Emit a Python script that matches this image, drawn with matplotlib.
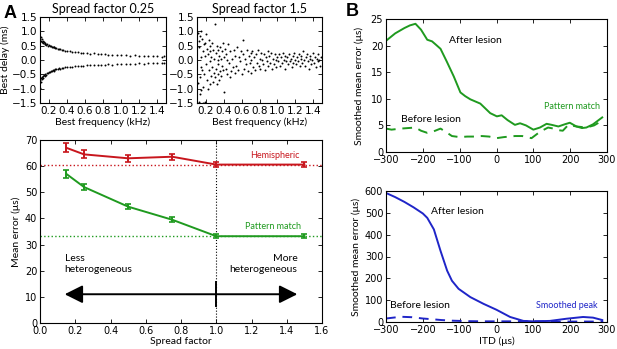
import matplotlib
matplotlib.use("Agg")
import matplotlib.pyplot as plt
import numpy as np

# ---- data ----
# panel A, top left: spread factor 0.25 (two branches)
sf025_up_f = [0.10, 0.11, 0.11, 0.12, 0.12, 0.13, 0.13, 0.14, 0.15, 0.15, 0.16, 0.17, 0.18, 0.19, 0.20,
              0.21, 0.22, 0.23, 0.24, 0.25, 0.26, 0.27, 0.28, 0.30, 0.31, 0.32, 0.34, 0.36, 0.38, 0.40,
              0.43, 0.46, 0.49, 0.52, 0.55, 0.58, 0.62, 0.66, 0.70, 0.74, 0.78, 0.82, 0.86, 0.90, 0.95,
              1.00, 1.05, 1.10, 1.15, 1.20, 1.25, 1.30, 1.35, 1.40, 1.45, 1.48]
sf025_up_d = [0.72, 0.68, 0.80, 0.62, 0.75, 0.65, 0.58, 0.63, 0.55, 0.60, 0.56, 0.52, 0.55, 0.50, 0.52,
              0.48, 0.50, 0.46, 0.47, 0.44, 0.45, 0.41, 0.42, 0.40, 0.37, 0.38, 0.35, 0.34, 0.33, 0.32,
              0.30, 0.29, 0.28, 0.27, 0.26, 0.25, 0.24, 0.22, 0.23, 0.21, 0.20, 0.21, 0.19, 0.18, 0.17,
              0.16, 0.17, 0.15, 0.16, 0.14, 0.15, 0.13, 0.14, 0.13, 0.12, 0.13]
sf025_lo_f = [0.10, 0.10, 0.11, 0.11, 0.12, 0.12, 0.13, 0.13, 0.14, 0.15, 0.16, 0.17, 0.18, 0.19, 0.20,
              0.21, 0.22, 0.23, 0.24, 0.25, 0.26, 0.27, 0.28, 0.30, 0.31, 0.32, 0.34, 0.36, 0.38, 0.40,
              0.43, 0.46, 0.49, 0.52, 0.55, 0.58, 0.62, 0.66, 0.70, 0.74, 0.78, 0.82, 0.86, 0.90, 0.95,
              1.00, 1.05, 1.10, 1.15, 1.20, 1.25, 1.30, 1.35, 1.40, 1.45, 1.48]
sf025_lo_d = [-0.98, -0.70, -0.62, -0.75, -0.58, -0.66, -0.55, -0.62, -0.52, -0.56, -0.50, -0.53, -0.47, -0.45, -0.43,
              -0.42, -0.40, -0.38, -0.36, -0.35, -0.37, -0.33, -0.32, -0.30, -0.29, -0.30, -0.28, -0.27, -0.25, -0.26,
              -0.24, -0.23, -0.22, -0.21, -0.22, -0.20, -0.19, -0.18, -0.19, -0.17, -0.16, -0.17, -0.15, -0.16, -0.14,
              -0.15, -0.13, -0.14, -0.13, -0.12, -0.13, -0.12, -0.11, -0.12, -0.11, -0.12]

# panel A, top right: spread factor 1.5
sf15_f = [0.11, 0.12, 0.12, 0.13, 0.13, 0.14, 0.14, 0.15, 0.15, 0.11, 0.12, 0.13,
          0.16, 0.16, 0.17, 0.17, 0.18, 0.18, 0.19, 0.19, 0.20, 0.20, 0.17, 0.19,
          0.21, 0.21, 0.22, 0.22, 0.23, 0.23, 0.24, 0.24, 0.25, 0.25,
          0.26, 0.26, 0.27, 0.27, 0.28, 0.28, 0.29, 0.29, 0.30, 0.30,
          0.31, 0.31, 0.32, 0.32, 0.33, 0.33, 0.34, 0.34, 0.35, 0.35,
          0.36, 0.36, 0.37, 0.37, 0.38, 0.38, 0.39, 0.40, 0.40, 0.39,
          0.41, 0.42, 0.43, 0.44, 0.45, 0.46, 0.47, 0.48, 0.49, 0.50, 0.44, 0.47,
          0.51, 0.52, 0.53, 0.54, 0.55, 0.56, 0.57, 0.58, 0.59, 0.60, 0.62,
          0.61, 0.63, 0.64, 0.65, 0.66, 0.67, 0.68, 0.69, 0.70, 0.70,
          0.71, 0.72, 0.73, 0.74, 0.75, 0.76, 0.77, 0.78, 0.79, 0.80,
          0.81, 0.82, 0.83, 0.84, 0.85, 0.86, 0.87, 0.88, 0.89, 0.90,
          0.91, 0.92, 0.93, 0.94, 0.95, 0.96, 0.97, 0.98, 0.99, 1.00,
          1.01, 1.02, 1.03, 1.04, 1.05, 1.06, 1.07, 1.08, 1.09, 1.10,
          1.11, 1.12, 1.13, 1.14, 1.15, 1.16, 1.17, 1.18, 1.19, 1.20,
          1.21, 1.22, 1.23, 1.24, 1.25, 1.26, 1.27, 1.28, 1.29, 1.30,
          1.31, 1.32, 1.33, 1.34, 1.35, 1.36, 1.37, 1.38, 1.39, 1.40,
          1.41, 1.42, 1.43, 1.44, 1.45, 1.46, 1.47, 1.48, 1.49]
sf15_d = [0.95, -1.45, 0.45, -0.60, 0.85, -0.25, 1.00, -1.05, 0.10, -0.80, 0.65, -1.20,
          -0.35, 0.75, 0.30, -0.95, 0.55, -0.50, 0.15, -1.45, 0.90, -0.15, -1.50, 0.60,
          -0.70, 0.40, -1.00, 0.20, 0.70, -0.35, -0.05, 0.50, -0.85, 0.30,
          -0.55, 0.10, 0.60, -0.25, -0.75, 0.35, -0.45, 0.05, 1.25, -0.60,
          0.25, -0.30, 0.50, -0.85, 0.00, -0.50, 0.35, -0.15, -0.70, 0.15,
          0.45, -0.40, 0.05, -0.55, 0.30, -0.20, 0.60, -1.10, 0.10, -0.35,
          0.40, -0.30, 0.20, -0.50, 0.55, -0.10, 0.30, -0.40, 0.05, -0.25, 0.00, -0.60,
          0.35, -0.45, 0.15, -0.20, 0.45, -0.35, 0.10, -0.05, 0.30, -0.50, 0.70,
          0.20, -0.30, 0.05, -0.15, 0.35, -0.40, 0.15, -0.10, 0.25, -0.45,
          0.00, 0.30, -0.25, 0.10, -0.35, 0.20, -0.10, 0.35, -0.20, 0.05,
          -0.30, 0.25, 0.00, -0.15, 0.20, -0.35, 0.10, -0.05, 0.30, -0.20,
          0.15, -0.10, 0.25, -0.30, 0.05, -0.15, 0.20, 0.00, -0.25, 0.10,
          -0.05, 0.20, -0.20, 0.10, -0.10, 0.25, 0.00, -0.30, 0.15, -0.05,
          0.10, -0.15, 0.20, -0.05, 0.05, -0.25, 0.15, -0.10, 0.25, 0.00,
          -0.15, 0.10, -0.05, 0.20, -0.20, 0.05, 0.15, -0.10, 0.30, 0.00,
          -0.20, 0.10, 0.20, -0.05, -0.30, 0.05, 0.15, -0.15, 0.00, 0.25,
          -0.10, 0.10, -0.25, 0.05, 0.20, -0.05, 0.00, -0.20, 0.10]

# panel A, bottom: mean error vs spread factor
spread = [0.15, 0.25, 0.5, 0.75, 1.0, 1.5]
hemi_err = [67.0, 64.5, 63.0, 63.6, 60.6, 60.6]
hemi_sem = [1.7, 1.5, 1.3, 1.2, 1.0, 0.9]
pm_err = [57.0, 52.0, 44.5, 39.5, 33.2, 33.2]
pm_sem = [1.5, 1.0, 0.9, 0.9, 0.8, 0.7]
hemi_ref = 60.6
pm_ref = 33.2

# panel B, top: pattern match
itd_pm = [-300, -275, -250, -235, -220, -205, -188, -175, -165, -152, -135, -116, -98, -85, -71,
          -44, -17, 1, 14, 30, 50, 64, 80, 100, 118, 136, 150, 168, 185, 199, 217, 232, 244, 262, 287]
pm_after = [20.9, 22.3, 23.3, 23.8, 24.1, 23.0, 21.1, 20.8, 20.2, 19.4, 17.0, 14.2, 11.2, 10.5, 9.9,
            9.1, 7.3, 6.7, 6.9, 6.0, 5.1, 5.4, 5.0, 4.2, 4.6, 5.3, 5.1, 4.8, 5.2, 5.5, 4.8, 4.5, 4.6, 5.2, 6.5]
itd_pm_b = [-300, -285, -260, -240, -220, -205, -188, -170, -152, -138, -121, -100, -80, -60, -40,
            -20, 0, 20, 35, 50, 70, 95, 118, 140, 155, 168, 180, 195, 217, 244, 265, 287]
pm_before = [4.4, 4.2, 4.4, 4.5, 4.6, 4.0, 3.6, 3.9, 4.4, 3.8, 3.0, 2.8, 2.9, 2.9, 3.0,
             2.9, 2.6, 2.8, 2.9, 3.0, 3.0, 2.6, 3.8, 4.6, 4.4, 4.1, 4.0, 5.1, 4.8, 4.6, 5.0, 5.9]

# panel B, bottom: smoothed peak
itd_sp = [-300, -275, -250, -225, -200, -188, -170, -152, -134, -121, -103, -71, -35, 0, 37,
          73, 100, 145, 190, 235, 262, 287]
sp_after = [591, 572, 550, 525, 497, 477, 424, 326, 235, 189, 152, 114, 83, 56, 23,
            5, 3, 5, 15, 23, 20, 9]
itd_sp_b = [-300, -260, -230, -200, -170, -150, -120, -80, -40, 0, 40, 80, 100, 150, 200, 250, 290]
sp_before = [16, 24, 22, 16, 12, 9, 6, 4, 3, 3, 3, 4, 3, 2, 2, 2, 2]

RED = "#c8161d"
GREEN = "#1f9a1f"
BLUE = "#1f25c8"

LAB = "Lato"
plt.rcParams["font.family"] = "DejaVu Sans"
plt.rcParams["xtick.labelsize"] = 7
plt.rcParams["ytick.labelsize"] = 7

W, H = 617, 349
fig = plt.figure(figsize=(W / 100, H / 100), dpi=100)


def ax_at(l, t, r, b):
    return fig.add_axes([l / W, 1 - b / H, (r - l) / W, (b - t) / H])


def style(ax):
    ax.tick_params(direction="in", top=True, right=True, length=3, width=0.6, pad=2)
    for s in ax.spines.values():
        s.set_linewidth(0.8)


# ---- A top panels ----
a1 = ax_at(40, 17, 166, 103)
a2 = ax_at(197, 17, 322, 103)
for ax, title in [(a1, "Spread factor 0.25"), (a2, "Spread factor 1.5")]:
    style(ax)
    ax.tick_params(labelsize=7.5)
    ax.set_xlim(0.1, 1.5)
    ax.set_ylim(-1.5, 1.5)
    ax.set_xticks(np.arange(0.2, 1.41, 0.2))
    ax.set_yticks(np.arange(-1.5, 1.51, 0.5))
    ax.set_title(title, fontsize=9, family=LAB, pad=3)
    ax.set_xlabel("Best frequency (kHz)", fontsize=7.5, family=LAB, labelpad=1)
a1.scatter(sf025_up_f, sf025_up_d, s=2, c="k", lw=0)
a1.scatter(sf025_lo_f, sf025_lo_d, s=2, c="k", lw=0)
a2.scatter(sf15_f, sf15_d, s=2, c="k", lw=0)
a1.set_ylabel("Best delay (ms)", fontsize=7.5, family=LAB, labelpad=1)

# ---- A bottom panel ----
a3 = ax_at(40, 140, 322, 323)
style(a3)
a3.set_xlim(0, 1.6)
a3.set_ylim(0, 70)
a3.set_xticks(np.arange(0, 1.61, 0.2))
a3.set_yticks(np.arange(0, 71, 10))
a3.axhline(hemi_ref, color=RED, ls=":", lw=1)
a3.axhline(pm_ref, color=GREEN, ls=":", lw=1)
a3.axvline(1.0, color="k", ls=":", lw=0.8)
a3.errorbar(spread, hemi_err, yerr=hemi_sem, color=RED, lw=1.4, capsize=2.5, capthick=1.2)
a3.errorbar(spread, pm_err, yerr=pm_sem, color=GREEN, lw=1.4, capsize=2.5, capthick=1.2)
a3.text(1.47, 64, "Hemispheric", color=RED, fontsize=6.5, family=LAB, ha="right", va="center")
a3.text(1.48, 36.8, "Pattern match", color=GREEN, fontsize=6.5, family=LAB, ha="right", va="center")
a3.text(0.14, 22.5, "Less\nheterogeneous", fontsize=7.5, family=LAB, ha="left", va="center", linespacing=1.3)
a3.text(1.46, 22.5, "More\nheterogeneous", fontsize=7.5, family=LAB, ha="right", va="center",
        multialignment="right", linespacing=1.3)
a3.annotate("", xy=(0.14, 11), xytext=(1.46, 11),
            arrowprops=dict(arrowstyle="<|-|>,head_length=1.1,head_width=0.55", color="k", lw=1.4,
                            shrinkA=0, shrinkB=0))
a3.plot([1.0, 1.0], [6.4, 15.6], color="k", lw=1.4)
a3.set_xlabel("Spread factor", fontsize=7.5, family=LAB, labelpad=1)
a3.set_ylabel("Mean error (μs)", fontsize=7.5, family=LAB, labelpad=3)

# ---- B top ----
b1 = ax_at(386, 19, 607, 152)
style(b1)
b1.set_xlim(-300, 300)
b1.set_ylim(0, 25)
b1.set_xticks(np.arange(-300, 301, 100))
b1.set_yticks(np.arange(0, 26, 5))
b1.plot(itd_pm, pm_after, color=GREEN, lw=1.4)
b1.plot(itd_pm_b, pm_before, color=GREEN, lw=1.4, ls=(0, (5, 3.5)))
b1.text(-130, 21, "After lesion", fontsize=7.5, family=LAB, va="center")
b1.text(-259, 6.2, "Before lesion", fontsize=7.5, family=LAB, va="center")
b1.text(280, 8.6, "Pattern match", fontsize=6.5, family=LAB, color=GREEN, ha="right", va="center")
b1.set_ylabel("Smoothed mean error (μs)", fontsize=7.5, family=LAB, labelpad=5)

# ---- B bottom ----
b2 = ax_at(386, 191, 607, 322)
style(b2)
b2.set_xlim(-300, 300)
b2.set_ylim(0, 600)
b2.set_xticks(np.arange(-300, 301, 100))
b2.set_yticks(np.arange(0, 601, 100))
b2.plot(itd_sp, sp_after, color=BLUE, lw=1.4)
b2.plot(itd_sp_b, sp_before, color=BLUE, lw=1.4, ls=(0, (5, 3.5)))
b2.text(-177, 507, "After lesion", fontsize=7.5, family=LAB, va="center")
b2.text(-289, 76, "Before lesion", fontsize=7.5, family=LAB, va="center")
b2.text(275, 76, "Smoothed peak", fontsize=6.5, family=LAB, color=BLUE, ha="right", va="center")
b2.set_ylabel("Smoothed mean error (μs)", fontsize=7.5, family=LAB, labelpad=3)
b2.set_xlabel("ITD (μs)", fontsize=7.5, family=LAB, labelpad=1)

fig.text(4 / W, 1 - 14 / H, "A", fontsize=13, fontweight="bold", family="Liberation Sans", va="center")
fig.text(346 / W, 1 - 12 / H, "B", fontsize=13, fontweight="bold", family="Liberation Sans", va="center")

fig.savefig("out.png", dpi=100)
